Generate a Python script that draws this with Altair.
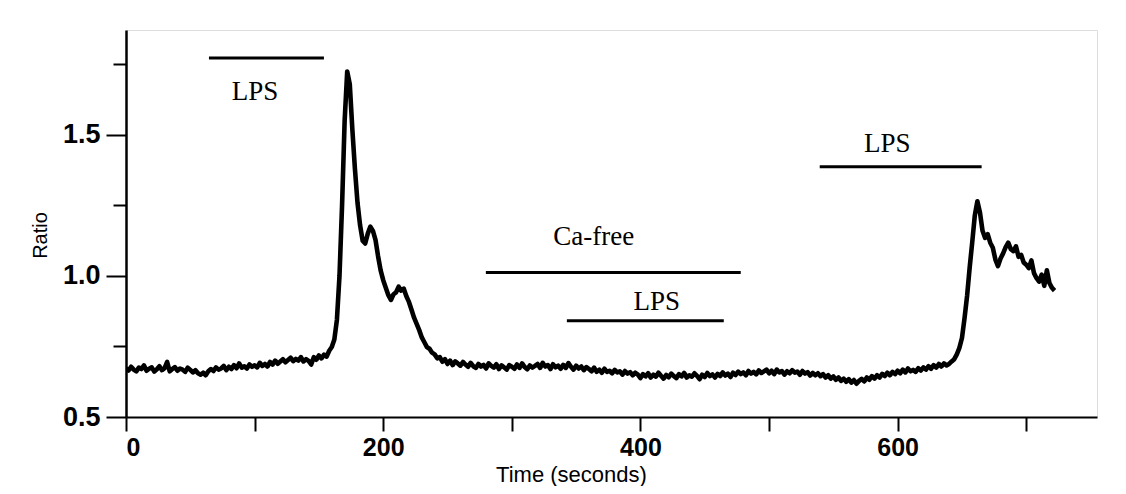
import altair as alt
import pandas as pd

# Sampled every 2 s from 0 to 722 s
times = list(range(0, 723, 2))
ratio = [
    0.672, 0.665, 0.678, 0.668, 0.662, 0.675, 0.670, 0.683, 0.664, 0.671,
    0.676, 0.661, 0.669, 0.680, 0.666, 0.673, 0.695, 0.662, 0.670, 0.677,
    0.664, 0.672, 0.668, 0.660, 0.675, 0.667, 0.658, 0.666, 0.655, 0.650,
    0.657, 0.648, 0.662, 0.670, 0.663, 0.676, 0.668, 0.672, 0.681, 0.666,
    0.678, 0.670, 0.684, 0.673, 0.690, 0.675, 0.680, 0.672, 0.686, 0.678,
    0.683, 0.676, 0.692, 0.681, 0.688, 0.679, 0.695, 0.686, 0.700, 0.689,
    0.697, 0.705, 0.694, 0.702, 0.710, 0.698, 0.706, 0.700, 0.712, 0.697,
    0.705, 0.699, 0.686, 0.712, 0.703, 0.718, 0.708, 0.721, 0.714, 0.735,
    0.748, 0.775, 0.845, 1.000, 1.250, 1.550, 1.725, 1.680, 1.520, 1.380,
    1.260, 1.180, 1.125, 1.115, 1.150, 1.175, 1.160, 1.128, 1.070, 1.020,
    0.985, 0.958, 0.932, 0.915, 0.935, 0.942, 0.962, 0.948, 0.955, 0.928,
    0.908, 0.880, 0.852, 0.830, 0.808, 0.782, 0.765, 0.748, 0.742, 0.728,
    0.722, 0.708, 0.712, 0.696, 0.705, 0.688, 0.700, 0.684, 0.697, 0.690,
    0.682, 0.695, 0.686, 0.678, 0.692, 0.680, 0.674, 0.688, 0.679, 0.685,
    0.672, 0.690, 0.681, 0.675, 0.687, 0.670, 0.683, 0.676, 0.668, 0.684,
    0.678, 0.671, 0.686, 0.674, 0.690, 0.677, 0.669, 0.683, 0.675, 0.681,
    0.688, 0.674, 0.692, 0.679, 0.684, 0.670, 0.687, 0.676, 0.682, 0.671,
    0.685, 0.674, 0.691, 0.678, 0.668, 0.682, 0.672, 0.679, 0.666, 0.677,
    0.670, 0.662, 0.675, 0.660, 0.668, 0.657, 0.671, 0.660, 0.664, 0.655,
    0.667, 0.658, 0.662, 0.650, 0.663, 0.654, 0.659, 0.648, 0.657, 0.650,
    0.638, 0.652, 0.644, 0.655, 0.640, 0.650, 0.643, 0.657, 0.646, 0.636,
    0.649, 0.641, 0.654, 0.645, 0.638, 0.652, 0.644, 0.656, 0.640, 0.648,
    0.643, 0.655, 0.646, 0.634, 0.650, 0.642, 0.656, 0.645, 0.651, 0.640,
    0.653, 0.645, 0.658, 0.647, 0.654, 0.642, 0.657, 0.649, 0.661, 0.652,
    0.658, 0.648, 0.663, 0.654, 0.660, 0.651, 0.665, 0.656, 0.662, 0.668,
    0.655, 0.664, 0.652, 0.668, 0.658, 0.663, 0.650, 0.662, 0.655, 0.666,
    0.657, 0.661, 0.650, 0.663, 0.654, 0.659, 0.647, 0.656, 0.648, 0.655,
    0.645, 0.652, 0.640, 0.648, 0.636, 0.644, 0.632, 0.640, 0.628, 0.636,
    0.625, 0.634, 0.622, 0.631, 0.618, 0.628, 0.635, 0.626, 0.640, 0.632,
    0.645, 0.636, 0.648, 0.640, 0.653, 0.645, 0.657, 0.648, 0.660, 0.652,
    0.664, 0.655, 0.668, 0.658, 0.672, 0.662, 0.667, 0.660, 0.673, 0.665,
    0.676, 0.668, 0.680, 0.671, 0.684, 0.675, 0.688, 0.679, 0.690, 0.683,
    0.688, 0.697, 0.705, 0.722, 0.745, 0.780, 0.850, 0.930, 1.030, 1.120,
    1.215, 1.265, 1.225, 1.160, 1.135, 1.148, 1.118, 1.100, 1.058, 1.035,
    1.062, 1.080, 1.102, 1.118, 1.095, 1.088, 1.105, 1.068, 1.075, 1.048,
    1.040, 1.028, 1.055, 1.010, 0.992, 0.980, 1.005, 0.965, 1.020, 0.975,
    0.958, 0.948,
]

# Treatment bars
bar_start = [64.5, 279.8, 342.8, 539.4]
bar_end = [153.9, 478.0, 464.8, 665.3]
bar_level = [1.773, 1.012, 0.841, 1.387]

# Treatment labels
label_text = ["LPS", "Ca-free", "LPS", "LPS"]
label_time = [100.3, 363.7, 412.7, 592.0]
label_level = [1.624, 1.110, 0.879, 1.440]

x_ticks = [0, 100, 200, 300, 400, 500, 600, 700]
y_ticks = [0.5, 0.75, 1.0, 1.25, 1.5, 1.75]

trace = pd.DataFrame({"t": times, "r": ratio})
bars = pd.DataFrame({"s": bar_start, "e": bar_end, "y": bar_level})
labels = pd.DataFrame({"text": label_text, "t": label_time, "y": label_level})

x_scale = alt.Scale(domain=[0, 755], nice=False, zero=False)
y_scale = alt.Scale(domain=[0.5, 1.872], nice=False, zero=False)

x_axis = alt.Axis(
    values=x_ticks,
    labelExpr="datum.value % 200 == 0 ? datum.label : ''",
    title="Time (seconds)",
    titleFont="Liberation Sans",
    titleFontSize=22,
    titleFontWeight="normal",
    titleColor="black",
    titleX=445,
    titleY=64,
    titleAlign="center",
    titleBaseline="alphabetic",
    labelFont="Liberation Sans",
    labelFontSize=25,
    labelFontWeight="bold",
    labelColor="black",
    labelPadding=4,
    tickSize=14,
    tickWidth=2,
    tickColor="black",
    domainColor="black",
    domainWidth=2,
    grid=False,
)

y_axis = alt.Axis(
    values=y_ticks,
    labelExpr="(datum.value * 2) % 1 == 0 ? format(datum.value, '.1f') : ''",
    title="Ratio",
    titleFont="Liberation Sans",
    titleFontSize=20,
    titleFontWeight="normal",
    titleColor="black",
    titleX=-86,
    titleY=205,
    titleAngle=270,
    titleAlign="center",
    titleBaseline="middle",
    labelFont="Liberation Sans",
    labelFontSize=27,
    labelFontWeight="bold",
    labelColor="black",
    labelPadding=6,
    tickSize={"condition": {"test": "(datum.value * 2) % 1 == 0", "value": 20}, "value": 13},
    tickWidth=2,
    tickColor="black",
    domainColor="black",
    domainWidth=2.5,
    grid=False,
)

line = alt.Chart(trace).mark_line(
    color="black", strokeWidth=4.6, strokeJoin="round", clip=True
).encode(
    x=alt.X("t:Q", scale=x_scale, axis=x_axis),
    y=alt.Y("r:Q", scale=y_scale, axis=y_axis),
)

rules = alt.Chart(bars).mark_rule(color="black", strokeWidth=3).encode(
    x=alt.X("s:Q", scale=x_scale),
    x2="e:Q",
    y=alt.Y("y:Q", scale=y_scale),
)

texts = alt.Chart(labels).mark_text(
    font="Liberation Serif", fontSize=27, color="black", align="center", baseline="alphabetic"
).encode(
    x=alt.X("t:Q", scale=x_scale),
    y=alt.Y("y:Q", scale=y_scale),
    text="text:N",
)

chart = (
    alt.layer(line, rules, texts)
    .properties(
        width=971,
        height=387,
        autosize=alt.AutoSizeParams(type="none"),
        padding={"left": 118, "top": 22, "right": 15, "bottom": 69},
    )
    .configure_view(stroke="black", strokeWidth=1.5)
    .configure(background="white")
)

chart.save("out.html", embed_options={"renderer": "svg", "actions": False})
